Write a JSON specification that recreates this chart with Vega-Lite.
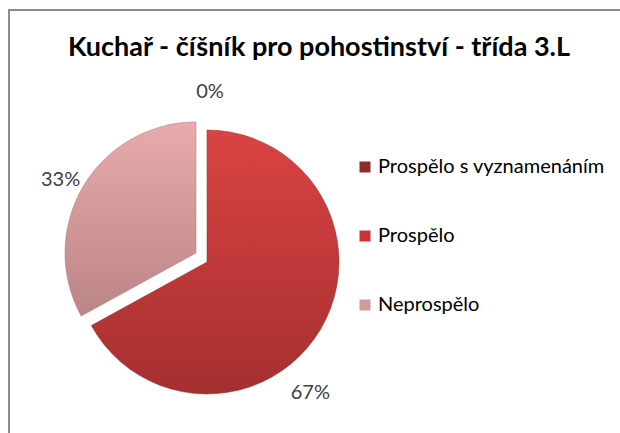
{
  "$schema": "https://vega.github.io/schema/vega-lite/v6.json",
  "width": 620,
  "height": 433,
  "autosize": "none",
  "padding": {"left": 9, "top": 10, "right": 0, "bottom": 0},
  "background": "white",
  "view": {"stroke": "#8c8c8c", "strokeWidth": 2, "fill": "white"},
  "title": {
    "text": "Kuchař - číšník pro pohostinství - třída 3.L",
    "font": "Lato", "fontSize": 27, "fontWeight": "bold", "color": "#000000",
    "anchor": "middle", "frame": "group", "offset": -52
  },
  "data": {"values": [
    {"kategorie": "Prospělo s vyznamenáním", "podil": 0},
    {"kategorie": "Prospělo", "podil": 0.67},
    {"kategorie": "Neprospělo", "podil": 0.33}
  ]},
  "transform": [{"stack": "podil", "groupby": [], "as": ["p0", "p1"]}],
  "layer": [
    {
      "mark": {"type": "arc", "outerRadius": 0, "xOffset": -117.5, "yOffset": 31},
      "encoding": {
        "theta": {"field": "p0", "type": "quantitative", "stack": null, "scale": {"domain": [0, 1]}},
        "theta2": {"field": "p1"},
        "color": {
          "field": "kategorie", "type": "nominal",
          "scale": {"domain": ["Prospělo s vyznamenáním", "Prospělo", "Neprospělo"], "range": ["#8e2b2b", "#c83535", "#d09a9a"]},
          "legend": {
            "title": null, "orient": "none", "legendX": 346, "legendY": 147,
            "symbolType": "square", "symbolSize": 121, "symbolStrokeWidth": 0,
            "labelFont": "Lato", "labelFontSize": 20, "labelColor": "#000000", "labelLimit": 400,
            "rowPadding": 49, "labelOffset": 3
          }
        }
      }
    },
    {
      "transform": [{"filter": "datum.kategorie === 'Prospělo'"}],
      "mark": {
        "type": "arc", "outerRadius": 132, "xOffset": -112, "yOffset": 35.5,
        "fill": {"gradient": "linear", "x1": 0, "y1": 0, "x2": 0, "y2": 1, "stops": [{"offset": 0, "color": "#da4343"}, {"offset": 1, "color": "#a52f2f"}]},
        "stroke": "#9a2b2b", "strokeWidth": 0.5
      },
      "encoding": {
        "theta": {"field": "p0", "type": "quantitative", "stack": null},
        "theta2": {"field": "p1"}
      }
    },
    {
      "transform": [{"filter": "datum.kategorie === 'Neprospělo'"}],
      "mark": {
        "type": "arc", "outerRadius": 131, "xOffset": -123, "yOffset": 26.5,
        "fill": {"gradient": "linear", "x1": 0, "y1": 0, "x2": 0, "y2": 1, "stops": [{"offset": 0, "color": "#e8abab"}, {"offset": 1, "color": "#bb8585"}]},
        "stroke": "#a87777", "strokeWidth": 0.5
      },
      "encoding": {
        "theta": {"field": "p0", "type": "quantitative", "stack": null},
        "theta2": {"field": "p1"}
      }
    },
    {
      "mark": {"type": "text", "radius": 166, "xOffset": -117.5, "yOffset": 31, "dx": 8.5, "font": "Lato", "fontSize": 20, "color": "#404040"},
      "encoding": {
        "theta": {"field": "podil", "type": "quantitative", "stack": true},
        "order": {"field": "p1", "type": "quantitative"},
        "detail": {"field": "kategorie", "type": "nominal"},
        "text": {"field": "podil", "type": "quantitative", "format": ".0%"},
        "opacity": {"condition": {"test": "datum.kategorie === 'Prospělo s vyznamenáním'", "value": 1}, "value": 0}
      }
    },
    {
      "mark": {"type": "text", "radius": 166, "xOffset": -117.5, "yOffset": 31, "dx": 2, "dy": 7, "font": "Lato", "fontSize": 20, "color": "#404040"},
      "encoding": {
        "theta": {"field": "podil", "type": "quantitative", "stack": true},
        "order": {"field": "p1", "type": "quantitative"},
        "detail": {"field": "kategorie", "type": "nominal"},
        "text": {"field": "podil", "type": "quantitative", "format": ".0%"},
        "opacity": {"condition": {"test": "datum.kategorie === 'Neprospělo'", "value": 1}, "value": 0}
      }
    },
    {
      "mark": {"type": "text", "radius": 166, "xOffset": -117.5, "yOffset": 31, "dx": -34, "dy": 51, "font": "Lato", "fontSize": 20, "color": "#404040"},
      "encoding": {
        "theta": {"field": "podil", "type": "quantitative", "stack": true},
        "order": {"field": "p1", "type": "quantitative"},
        "detail": {"field": "kategorie", "type": "nominal"},
        "text": {"field": "podil", "type": "quantitative", "format": ".0%"},
        "opacity": {"condition": {"test": "datum.kategorie === 'Prospělo'", "value": 1}, "value": 0}
      }
    }
  ]
}
